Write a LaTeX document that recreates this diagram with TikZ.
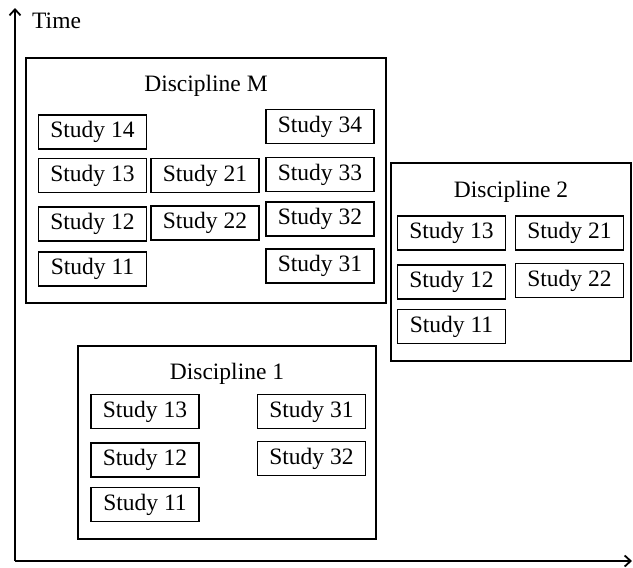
\documentclass[tikz,border=0pt]{standalone}
\usepackage{fontspec}
\setmainfont{Liberation Serif}
\usetikzlibrary{arrows.meta}
\begin{document}
\begin{tikzpicture}[x=1pt,y=-1pt,
  txt/.style={font=\fontsize{23.5}{27}\selectfont, inner sep=0pt},
  studybox/.style={txt, draw, line width=1.9pt, minimum width=108pt, minimum height=34pt},
  discbox/.style={draw, line width=1.6pt, inner sep=0pt},
  disctitle/.style={txt, anchor=base},
  axis/.style={line width=1.8pt, -{Straight Barb[length=6pt 0 0, width=11pt 0 0]}}]
\useasboundingbox (0,0) rectangle (633,568);

% axes
\coordinate (o) at (15,561);
\coordinate (ytop) at (15,8);
\coordinate (xend) at (632,561);
\draw[axis] (o) -- (ytop);
\draw[axis] (o) -- (xend);
\node[txt, anchor=base west] (time) at (32,28) {Time};

% discipline frames
\node[discbox, minimum width=360pt, minimum height=245pt] (dM) at (206,180.5) {};
\node[discbox, minimum width=240pt, minimum height=198pt] (d2) at (511,262) {};
\node[discbox, minimum width=298pt, minimum height=193pt] (d1) at (227,442.5) {};
\node[disctitle] (dMt) at (206,91) {Discipline M};
\node[disctitle] (d2t) at (511,197) {Discipline 2};
\node[disctitle] (d1t) at (227,379) {Discipline 1};

% Discipline M
\node[studybox] (m14) at (92.5,132) {Study 14};
\node[studybox] (m13) at (92.5,175.5) {Study 13};
\node[studybox] (m12) at (92.5,224) {Study 12};
\node[studybox] (m11) at (92.5,269) {Study 11};
\node[studybox] (m21) at (205,175.5) {Study 21};
\node[studybox] (m22) at (205,223) {Study 22};
\node[studybox] (m34) at (320,126.5) {Study 34};
\node[studybox] (m33) at (320,174.5) {Study 33};
\node[studybox] (m32) at (320,219) {Study 32};
\node[studybox] (m31) at (320,266) {Study 31};

% Discipline 2
\node[studybox] (b13) at (451.5,233) {Study 13};
\node[studybox] (b21) at (569.5,233) {Study 21};
\node[studybox] (b12) at (451.5,282) {Study 12};
\node[studybox] (b22) at (569.5,280.5) {Study 22};
\node[studybox] (b11) at (451.5,326.5) {Study 11};

% Discipline 1
\node[studybox] (a13) at (145,411.5) {Study 13};
\node[studybox] (a12) at (145,460) {Study 12};
\node[studybox] (a11) at (145,504.5) {Study 11};
\node[studybox] (a31) at (311.5,411.5) {Study 31};
\node[studybox] (a32) at (311.5,458.5) {Study 32};
\end{tikzpicture}
\end{document}
